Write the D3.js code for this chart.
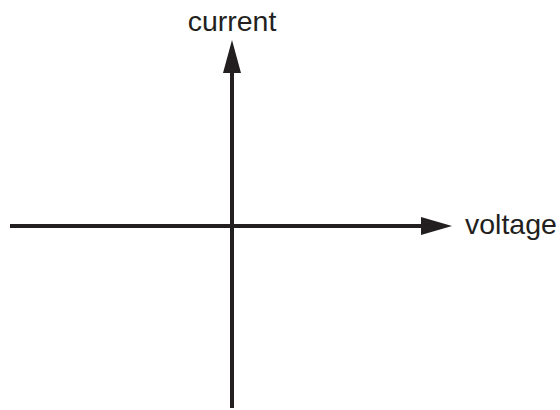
<!DOCTYPE html>
<html>
<head>
<meta charset="utf-8">
<script src="https://cdn.jsdelivr.net/npm/d3@7"></script>
<style>
  body { margin: 0; background: #fff; }
  text { font-family: "Liberation Sans", Arial, sans-serif; fill: #231f20; }
</style>
</head>
<body>
<div id="chart"></div>
<script>
// axis extents in data units (origin at 0,0)
const xExtent = [-1, 1];
const yExtent = [-1, 1];
const axisLabels = ["voltage", "current"];

const width = 560, height = 410;
const ink = "#231f20";

// voltage axis: left end at 10px, origin at 232, arrow tip at 452
const x = d3.scaleLinear().domain([-1, 0, 1]).range([10, 232, 452]);
// current axis: bottom at 408, origin at 226, arrow tip at 40
const y = d3.scaleLinear().domain([-1, 0, 1]).range([408, 226, 40]);

const svg = d3.select("#chart").append("svg")
    .attr("width", width)
    .attr("height", height);

const headLen = 31, headHalf = 9;

// horizontal axis
svg.append("line")
    .attr("x1", x(xExtent[0])).attr("y1", y(0))
    .attr("x2", x(xExtent[1]) - headLen + 2).attr("y2", y(0))
    .attr("stroke", ink).attr("stroke-width", 4);

svg.append("path")
    .attr("d", `M${x(xExtent[1])},${y(0)} L${x(xExtent[1]) - headLen},${y(0) - headHalf} L${x(xExtent[1]) - headLen},${y(0) + headHalf} Z`)
    .attr("fill", ink);

// vertical axis
svg.append("line")
    .attr("x1", x(0)).attr("y1", y(yExtent[0]))
    .attr("x2", x(0)).attr("y2", y(yExtent[1]) + 33 - 2)
    .attr("stroke", ink).attr("stroke-width", 4);

svg.append("path")
    .attr("d", `M${x(0)},${y(yExtent[1])} L${x(0) - headHalf},${y(yExtent[1]) + 33} L${x(0) + headHalf},${y(yExtent[1]) + 33} Z`)
    .attr("fill", ink);

// labels
svg.append("text")
    .attr("x", x(xExtent[1]) + 13)
    .attr("y", y(0) + 8)
    .attr("font-size", "28.5px")
    .text(axisLabels[0]);

svg.append("text")
    .attr("x", x(0))
    .attr("y", 31)
    .attr("text-anchor", "middle")
    .attr("font-size", "28.5px")
    .text(axisLabels[1]);
</script>
</body>
</html>
